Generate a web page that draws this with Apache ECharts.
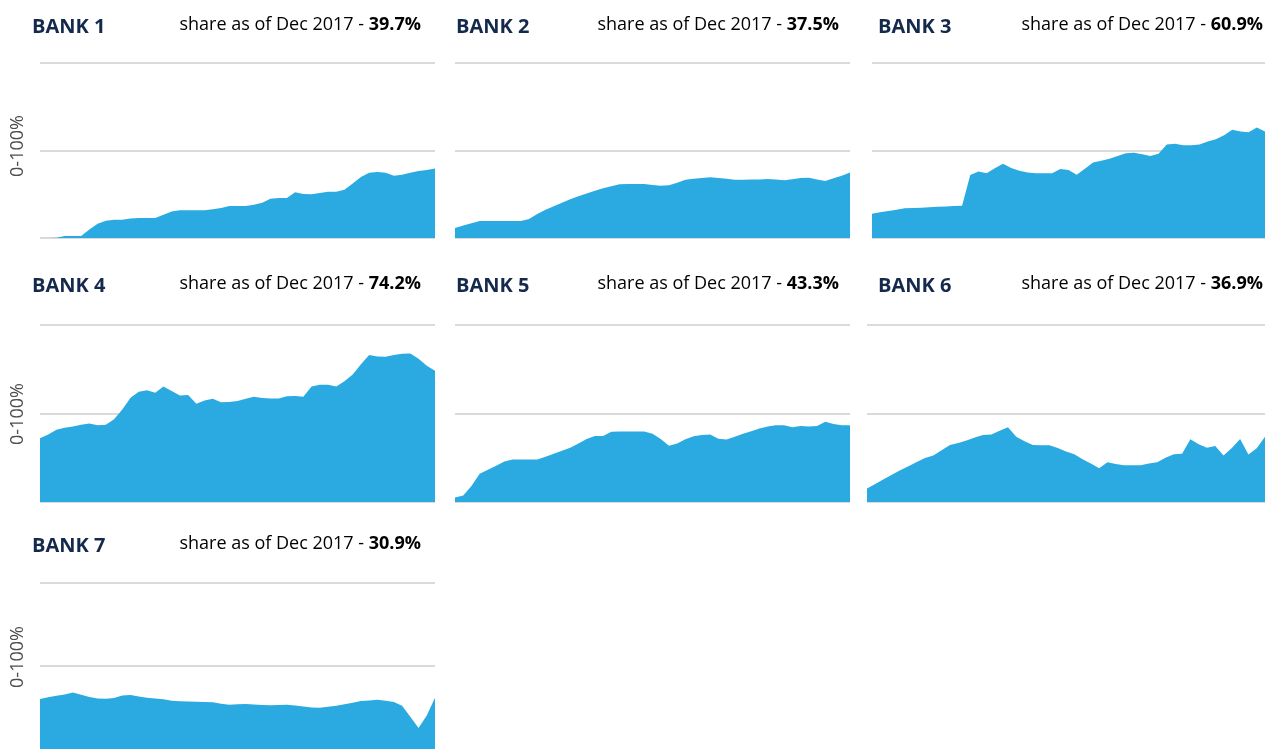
<!DOCTYPE html>
<html>
<head>
<meta charset="utf-8">
<title>Bank share as of Dec 2017</title>
<script src="https://cdn.jsdelivr.net/npm/echarts@6/dist/echarts.min.js"></script>
<style>
  html, body { margin: 0; padding: 0; background: #ffffff; }
  #chart { width: 1265px; height: 749px; }
</style>
</head>
<body>
<div id="chart"></div>
<script>
// monthly points, Dec 2013 .. Dec 2017
const monthNames = ['Jan', 'Feb', 'Mar', 'Apr', 'May', 'Jun', 'Jul', 'Aug', 'Sep', 'Oct', 'Nov', 'Dec']
const months = ['Dec 2013']
for (let y = 2014; y <= 2017; y++) {
  monthNames.forEach((m) => months.push(m + ' ' + y))
}

const bankNames = ['BANK 1', 'BANK 2', 'BANK 3', 'BANK 4', 'BANK 5', 'BANK 6', 'BANK 7']
const shareDec2017 = ['39.7%', '37.5%', '60.9%', '74.2%', '43.3%', '36.9%', '30.9%']

const bank1 = [0, 0, 0.2, 1.1, 1.1, 1.1, 4.9, 8.2, 9.9, 10.4, 10.5, 11.1, 11.4, 11.4, 11.4, 13.3, 15.2, 15.8, 15.8, 15.8, 15.8, 16.4, 17.2, 18.3, 18.3, 18.3, 19.0, 20.2, 22.5, 22.9, 22.9, 26.2, 25.2, 25.0, 25.7, 26.5, 26.5, 27.6, 31.2, 34.9, 37.3, 37.7, 37.3, 35.6, 36.2, 37.3, 38.3, 38.9, 39.7]
const bank2 = [5.7, 7.1, 8.5, 9.7, 9.7, 9.7, 9.7, 9.7, 9.7, 10.9, 13.7, 16.2, 18.2, 20.2, 22.1, 23.8, 25.5, 27.0, 28.4, 29.6, 30.7, 30.9, 30.9, 30.8, 30.3, 29.9, 30.1, 31.6, 33.3, 33.9, 34.3, 34.7, 34.3, 33.8, 33.3, 33.3, 33.4, 33.5, 33.7, 33.5, 33.0, 33.6, 34.3, 34.5, 33.4, 32.6, 34.1, 35.6, 37.5]
const bank3 = [13.9, 14.7, 15.4, 16.2, 17.0, 17.1, 17.3, 17.6, 17.8, 18.0, 18.3, 18.5, 36.0, 38.0, 37.0, 39.9, 42.4, 40.0, 38.5, 37.4, 37.0, 37.0, 37.0, 39.4, 38.8, 36.2, 39.6, 43.2, 44.1, 45.3, 46.9, 48.5, 48.7, 47.8, 46.9, 48.2, 53.5, 53.9, 53.0, 53.0, 53.5, 55.1, 56.4, 58.7, 61.9, 60.8, 60.4, 63.2, 60.9]
const bank4 = [36.0, 38.1, 40.8, 42.0, 42.6, 43.6, 44.3, 43.3, 43.7, 46.8, 52.3, 58.9, 62.3, 63.1, 61.7, 65.2, 62.7, 60.2, 60.4, 55.5, 57.4, 58.3, 56.4, 56.5, 57.0, 58.3, 59.5, 58.7, 58.5, 58.5, 59.7, 59.9, 59.5, 65.3, 66.3, 66.3, 65.2, 68.2, 72.0, 77.8, 83.1, 82.2, 82.0, 83.0, 83.8, 83.9, 81.0, 77.0, 74.2]
const bank5 = [2.5, 3.7, 9.1, 15.9, 18.2, 20.5, 22.9, 24.0, 24.0, 24.0, 24.0, 25.6, 27.3, 28.9, 30.6, 33.0, 35.6, 37.3, 37.3, 39.7, 39.8, 39.8, 39.8, 39.8, 38.6, 35.6, 31.8, 33.1, 35.4, 37.1, 37.9, 38.1, 35.8, 35.3, 36.9, 38.5, 40.0, 41.5, 42.6, 43.4, 43.4, 42.3, 42.9, 42.7, 43.0, 45.3, 44.1, 43.4, 43.3]
const bank6 = [7.6, 10.2, 12.9, 15.4, 18.0, 20.2, 22.6, 24.8, 26.3, 29.2, 32.2, 33.4, 34.7, 36.4, 37.9, 38.1, 40.2, 42.2, 36.9, 34.3, 32.2, 32.1, 32.0, 30.5, 28.5, 27.0, 24.2, 21.8, 19.1, 22.5, 21.4, 20.8, 20.8, 20.8, 21.8, 22.5, 25.0, 27.0, 27.3, 35.5, 32.6, 30.7, 31.6, 26.3, 30.5, 35.6, 26.8, 30.3, 36.9]
const bank7 = [30.1, 31.2, 32.1, 32.9, 34.0, 32.7, 31.4, 30.4, 30.2, 30.7, 32.2, 32.6, 31.7, 30.9, 30.4, 29.9, 29.1, 28.8, 28.6, 28.5, 28.3, 28.1, 27.2, 26.7, 26.9, 27.1, 26.8, 26.5, 26.4, 26.5, 26.6, 26.2, 25.6, 25.0, 24.8, 25.4, 26.0, 26.9, 27.9, 28.9, 29.2, 29.7, 29.1, 28.3, 26.1, 19.5, 12.7, 20.2, 30.9]

const bankValues = [bank1, bank2, bank3, bank4, bank5, bank6, bank7]

// panel layout (px)
const panels = [
  { left: 40, top: 63, width: 395, height: 175, titleY: 27, shareRight: 421 },
  { left: 455, top: 63, width: 395, height: 175, titleY: 27, shareRight: 839 },
  { left: 872, top: 63, width: 395, height: 175, titleY: 27, shareRight: 1263 },
  { left: 40, top: 325, width: 395, height: 177, titleY: 286, shareRight: 421 },
  { left: 455, top: 325, width: 395, height: 177, titleY: 286, shareRight: 839 },
  { left: 867, top: 325, width: 400, height: 177, titleY: 286, shareRight: 1263 },
  { left: 40, top: 583, width: 395, height: 171, titleY: 546, shareRight: 421 },
]
const titleLeft = [32, 456, 878]
const axisLabelY = [146, 414, 657]

const blue = '#2aaae1'
const navy = '#14294b'
const font = '"Open Sans", "Noto Sans", sans-serif'

const grids = []
const xAxes = []
const yAxes = []
const series = []
const texts = []

panels.forEach((p, i) => {
  grids.push({ left: p.left, top: p.top, width: p.width, height: p.height })
  xAxes.push({
    type: 'category',
    gridIndex: i,
    data: months,
    boundaryGap: false,
    show: false,
  })
  yAxes.push({
    type: 'value',
    gridIndex: i,
    min: 0,
    max: 100,
    interval: 50,
    axisLabel: { show: false },
    axisLine: { show: false },
    axisTick: { show: false },
    splitLine: { lineStyle: { color: '#dadada', width: 2 } },
  })
  series.push({
    type: 'line',
    name: bankNames[i],
    xAxisIndex: i,
    yAxisIndex: i,
    data: bankValues[i],
    symbol: 'none',
    lineStyle: { width: 0 },
    areaStyle: { color: blue, opacity: 1 },
    silent: true,
  })

  texts.push({
    type: 'text',
    x: titleLeft[i % 3],
    y: p.titleY,
    style: {
      text: bankNames[i],
      fill: navy,
      font: 'bold 20px ' + font,
      verticalAlign: 'middle',
    },
  })
  texts.push({
    type: 'text',
    x: p.shareRight,
    y: p.titleY - 2,
    style: {
      text: '{a|share as of Dec 2017 - }{b|' + shareDec2017[i] + '}',
      align: 'right',
      verticalAlign: 'middle',
      rich: {
        a: { fontFamily: font, fontSize: 18, color: '#333333' },
        b: { fontFamily: font, fontSize: 18, fontWeight: 'bold', color: '#222222' },
      },
    },
  })
})

axisLabelY.forEach((y) => {
  texts.push({
    type: 'text',
    x: 18,
    y: y,
    rotation: Math.PI / 2,
    style: {
      text: '0-100%',
      fill: '#4d4d4d',
      font: '18px ' + font,
      align: 'center',
      verticalAlign: 'middle',
    },
  })
})

const myChart = echarts.init(document.getElementById('chart'))
myChart.setOption({
  backgroundColor: '#ffffff',
  animation: false,
  grid: grids,
  xAxis: xAxes,
  yAxis: yAxes,
  series: series,
  graphic: texts,
})
</script>
</body>
</html>
